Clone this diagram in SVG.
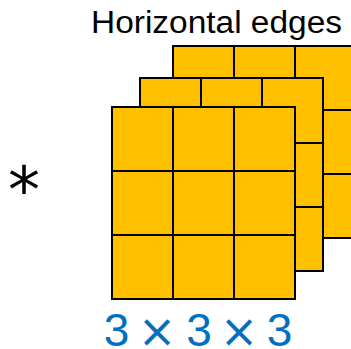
<svg xmlns="http://www.w3.org/2000/svg" width="351" height="349" viewBox="0 0 351 349">
<style>
.cell{fill:#FFC000;stroke:#000;stroke-width:2}
.ln{stroke:#000;stroke-width:2;fill:none}
.title{font-family:"Liberation Sans",Arial,sans-serif;font-size:31px;fill:#000}
.dim{font-family:"Liberation Sans",Arial,sans-serif;font-size:46px;fill:#0070C0;text-anchor:middle}
.x{font-family:"DejaVu Sans",sans-serif;font-size:46px;fill:#0070C0;text-anchor:middle}
.op{font-family:"DejaVu Sans",sans-serif;font-size:64px;fill:#000;text-anchor:middle}
</style>
<rect width="351" height="349" fill="#fff"/>
<text class="title" x="91" y="33" textLength="251" lengthAdjust="spacingAndGlyphs">Horizontal edges</text>
<g id="filter-back">
<rect class="cell" x="173" y="46" width="183" height="192"/>
<path class="ln" d="M234 46V238M295 46V238M173 110H356M173 174H356"/>
</g>
<g id="filter-middle">
<rect class="cell" x="140" y="78" width="183" height="193"/>
<path class="ln" d="M201 78V271M262 78V271M140 143H323M140 207H323"/>
</g>
<g id="filter-front">
<rect class="cell" x="112" y="107" width="183" height="192"/>
<path class="ln" d="M173 107V299M234 107V299M112 171H295M112 235H295"/>
</g>
<g id="connectors"></g>
<text class="op" x="24" y="212">*</text>
<g id="dims">
<text class="dim" x="116.5" y="346">3</text>
<text class="x" x="157" y="347">×</text>
<text class="dim" x="199" y="346">3</text>
<text class="x" x="239" y="347">×</text>
<text class="dim" x="279.5" y="346">3</text>
</g>
</svg>
